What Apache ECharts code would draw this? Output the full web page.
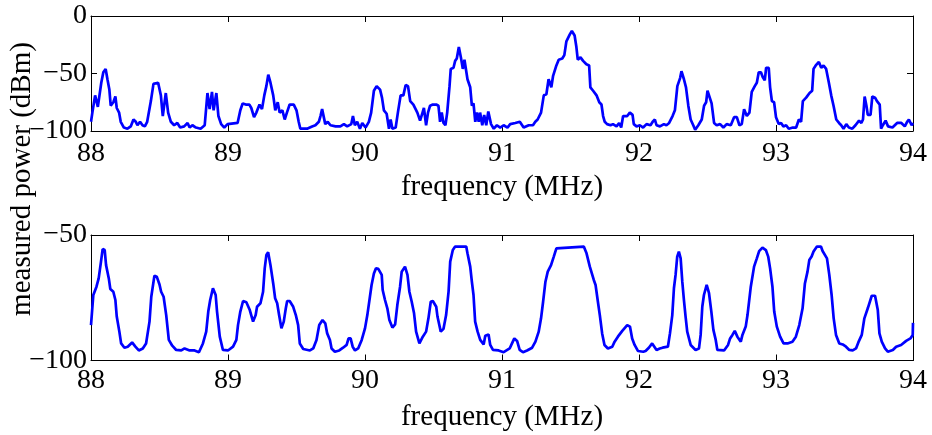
<!DOCTYPE html>
<html>
<head>
<meta charset="utf-8">
<script src="https://cdn.jsdelivr.net/npm/echarts@6/dist/echarts.min.js"></script>
<style>html,body{margin:0;padding:0;background:#fff}#c{width:932px;height:435px}</style>
</head>
<body>
<div id="c"></div>
<script>
// Top panel: measured power (dBm) vs frequency (MHz)
var topFreq = [88.0,88.01,88.03,88.04,88.05,88.06,88.075,88.09,88.107,88.12,88.134,88.144,88.163,88.178,88.188,88.205,88.217,88.24,88.266,88.29,88.31,88.327,88.339,88.358,88.376,88.393,88.41,88.437,88.456,88.49,88.51,88.524,88.546,88.563,88.583,88.607,88.63,88.651,88.68,88.705,88.72,88.74,88.766,88.8,88.83,88.85,88.866,88.883,88.895,88.915,88.93,88.95,88.973,88.997,89.07,89.09,89.107,89.13,89.156,89.17,89.19,
89.207,89.23,89.248,89.265,89.28,89.294,89.31,89.33,89.345,89.363,89.377,89.397,89.414,89.43,89.45,89.48,89.5,89.516,89.528,89.577,89.614,89.638,89.663,89.675,89.687,89.7,89.71,89.728,89.748,89.785,89.82,89.846,89.87,89.9,89.912,89.926,89.943,89.963,89.98,90.004,90.028,90.045,90.065,90.085,90.11,90.124,90.138,90.158,90.175,90.187,90.2,90.224,90.24,90.26,90.28,90.297,90.314,90.33,90.353,90.382,
90.402,90.42,90.43,90.446,90.46,90.475,90.495,90.52,90.536,90.548,90.56,90.573,90.587,90.6,90.617,90.626,90.646,90.658,90.67,90.685,90.7,90.714,90.726,90.738,90.748,90.768,90.78,90.792,90.805,90.817,90.83,90.84,90.856,90.87,90.885,90.9,90.92,90.94,90.963,90.987,91.012,91.04,91.06,91.097,91.13,91.158,91.195,91.226,91.243,91.26,91.285,91.305,91.324,91.34,91.36,91.373,91.397,91.414,91.44,91.455,91.47,91.495,91.51,91.53,91.543,91.553,91.573,91.592,
91.616,91.636,91.645,91.665,91.69,91.71,91.726,91.738,91.75,91.767,91.792,91.81,91.836,91.855,91.87,91.884,91.914,91.933,91.953,91.962,91.982,92.006,92.03,92.055,92.084,92.1,92.116,92.128,92.153,92.182,92.2,92.22,92.245,92.262,92.28,92.3,92.31,92.328,92.343,92.36,92.377,92.396,92.41,92.433,92.458,92.475,92.49,92.5,92.513,92.53,92.548,92.567,92.592,92.616,92.64,92.67,92.694,92.714,92.733,92.75,92.767,92.787,92.806,92.823,
92.845,92.86,92.874,92.89,92.903,92.918,92.928,92.947,92.957,92.97,92.986,93.0,93.02,93.037,93.054,93.074,93.093,93.123,93.147,93.167,93.183,93.196,93.22,93.245,93.264,93.274,93.29,93.313,93.33,93.347,93.366,93.386,93.403,93.42,93.44,93.46,93.476,93.493,93.513,93.532,93.557,93.58,93.606,93.623,93.635,93.647,93.66,93.67,93.69,93.703,93.723,93.737,93.757,93.767,93.78,93.8,93.818,93.85,93.884,93.915,93.94,93.957,93.97,93.99,94.0];
var topPower = [-92,-84,-69,-69,-79,-80,-58,-49,-46,-55,-64,-78,-75,-70,-80,-84,-92,-97,-98,-96,-90,-92,-95,-92,-95,-96,-92,-74,-59,-58,-69,-87,-67,-84,-92,-95,-93,-97,-96,-93,-97,-95,-97,-98,-95,-67,-81,-66,-82,-67,-87,-94,-97,-94,-93,-82,-76,-77,-77,-80,-88,
-84,-77,-81,-69,-61,-51,-58,-69,-82,-75,-84,-82,-90,-84,-77,-77,-82,-92,-98,-98,-96,-95,-92,-87,-81,-81,-94,-92,-95,-96,-96,-94,-96,-94,-87,-95,-92,-98,-93,-97,-92,-84,-65,-61,-64,-71,-82,-85,-98,-90,-98,-97,-84,-69,-69,-60,-61,-74,-77,-84,
-91,-84,-80,-95,-84,-78,-77,-77,-78,-92,-84,-93,-95,-84,-61,-46,-45,-39,-37,-27,-36,-46,-38,-38,-55,-62,-78,-76,-92,-84,-92,-84,-95,-86,-95,-83,-94,-98,-95,-97,-95,-97,-94,-93,-92,-97,-95,-95,-92,-90,-84,-69,-68,-55,-62,-52,-43,-38,-37,-34,-22,-16,-13,-17,-27,-38,-36,-39,
-42,-43,-62,-65,-69,-75,-77,-87,-92,-94,-95,-94,-96,-93,-97,-87,-87,-84,-86,-94,-96,-95,-97,-94,-95,-92,-90,-95,-96,-94,-95,-93,-87,-82,-61,-54,-48,-55,-62,-78,-90,-95,-99,-95,-90,-78,-75,-65,-66,-76,-93,-95,-94,-97,-94,-95,-88,-88,-95,-94,-81,-87,-84,-66,
-61,-58,-49,-49,-53,-56,-45,-45,-62,-74,-75,-88,-94,-93,-96,-95,-98,-97,-97,-90,-92,-74,-71,-67,-65,-46,-43,-40,-45,-43,-46,-58,-69,-78,-90,-93,-95,-98,-94,-97,-98,-95,-91,-93,-90,-70,-78,-86,-86,-70,-71,-74,-77,-98,-95,-91,-96,-97,-93,-93,-96,-92,-90,-95,-93];

// Bottom panel (clipped at -55 dBm)
var botFreq = [88.0,88.017,88.04,88.056,88.073,88.085,88.1,88.11,88.13,88.141,88.163,88.178,88.188,88.207,88.22,88.244,88.268,88.3,88.324,88.349,88.378,88.402,88.427,88.44,88.463,88.48,88.5,88.512,88.53,88.549,88.568,88.593,88.622,88.659,88.683,88.72,88.756,88.788,88.817,88.841,88.856,88.87,88.89,88.91,88.92,88.94,88.963,89.0,89.037,89.061,89.073,89.09,89.11,89.134,89.159,89.183,89.202,89.212,89.237,89.256,89.268,89.28,89.293,89.31,89.33,89.344,89.359,89.373,89.39,89.407,89.422,89.432,89.45,89.476,89.495,89.512,89.524,89.549,89.598,89.622,89.646,89.666,89.69,89.71,89.724,89.744,89.756,89.78,89.812,89.84,89.866,89.88,89.895,89.91,89.927,89.95,89.976,90.0,
90.017,90.036,90.048,90.065,90.08,90.097,90.122,90.129,90.146,90.163,90.178,90.2,90.22,90.236,90.256,90.268,90.292,90.31,90.324,90.341,90.358,90.373,90.397,90.422,90.446,90.463,90.48,90.495,90.52,90.529,90.553,90.573,90.592,90.61,90.622,90.641,90.658,90.739,90.748,90.768,90.78,90.792,90.804,90.822,90.841,90.866,90.878,90.902,90.914,90.934,90.975,91.012,91.056,91.073,91.09,91.11,91.129,91.153,91.183,91.22,91.244,91.268,91.285,91.3,91.317,91.334,91.358,91.378,91.397,91.407,91.597,91.617,91.641,91.67,91.683,91.7,91.714,91.731,91.748,91.773,91.805,91.822,91.846,91.878,91.914,91.934,91.95,91.968,91.992,92.031,
92.048,92.072,92.096,92.108,92.128,92.152,92.172,92.211,92.226,92.243,92.255,92.267,92.279,92.291,92.304,92.316,92.328,92.34,92.352,92.377,92.413,92.438,92.45,92.462,92.474,92.494,92.511,92.528,92.543,92.56,92.572,92.621,92.65,92.665,92.682,92.699,92.718,92.743,92.755,92.779,92.792,92.816,92.84,92.86,92.877,92.901,92.926,92.943,92.957,92.974,92.987,93.006,93.03,93.055,93.084,93.12,93.145,93.17,93.194,93.211,93.23,93.243,93.26,93.274,93.299,93.328,93.34,93.372,93.389,93.406,93.421,93.438,93.462,93.487,93.511,93.535,93.56,93.584,93.601,93.626,93.645,93.67,93.699,93.723,93.743,93.755,93.772,93.796,93.816,93.853,93.877,93.913,93.95,93.981,93.998,94.0];
var botPower = [-85.9,-73.9,-70.6,-67.3,-60.6,-55.6,-56,-62,-67.3,-71.5,-72.6,-75.9,-82.5,-88.5,-93.2,-94.9,-94.5,-92.8,-94.5,-96,-95.2,-93.2,-84.5,-74.6,-66.2,-66.6,-69.7,-72.6,-74.6,-81.9,-91.8,-94.1,-95.8,-96,-95.2,-96,-96,-96.7,-93.2,-88.5,-80.5,-75.9,-71.2,-73.9,-80.5,-90.5,-95.8,-96,-94.5,-91.8,-85.9,-80.5,-76.3,-76.8,-79.9,-84.5,-81.9,-78.6,-77.2,-72.6,-63.3,-58,-56.9,-62,-69.3,-75.2,-77.2,-81.9,-87.2,-84.5,-79.2,-76.3,-76.3,-78.6,-81.9,-85.9,-93.2,-95.4,-96,-95.2,-91.8,-85.9,-83.9,-85.2,-89.2,-91.8,-95.2,-96.5,-96,-94.9,-93.8,-91.2,-91.2,-94.5,-96,-95.2,-91.8,-87.2,
-81.9,-74.6,-69.9,-65.3,-63.3,-63.5,-65.9,-71.9,-75.9,-79.2,-83.9,-86.9,-85.6,-77.9,-70.6,-64.6,-62.6,-65.9,-72.6,-76.6,-81.2,-88.5,-93.2,-90.5,-88.5,-83.2,-76.6,-76.3,-78.6,-82.5,-88.5,-87.4,-81.9,-72.6,-60.6,-56,-54.6,-54.6,-57.3,-62.6,-68.6,-73.9,-84.5,-88.5,-91.8,-93.6,-90.1,-89.6,-93.8,-95.8,-96,-96.7,-95.2,-93.2,-91.2,-92.2,-95.8,-96.7,-96,-94.9,-92.5,-88.5,-83.2,-76.6,-68.6,-64.6,-62,-58.6,-55.3,-54.6,-54.6,-57.3,-62.6,-67.9,-69.9,-76.6,-81.9,-89.2,-93.8,-95.2,-94.5,-92.5,-90.5,-88.2,-85.9,-86.5,-91.2,-93.8,-96.2,-96.5,
-96.2,-94.9,-93.2,-93.8,-95.8,-95.2,-94.9,-94.5,-89.2,-81.9,-71.2,-65.9,-58.6,-56.6,-59.3,-68.6,-75.9,-82.5,-88.5,-93.8,-95.8,-95.2,-89.8,-78.6,-73.9,-69.9,-73.2,-80.5,-87.8,-91.8,-95.8,-96,-93.8,-91.2,-89.8,-88.2,-90.5,-92.5,-89.8,-86.5,-81.9,-70.6,-62.6,-59.3,-56.4,-55,-56,-58.6,-63.3,-70.6,-80.5,-86.5,-90.5,-93.2,-93.2,-92.5,-90.5,-85.9,-79.2,-69.3,-64.6,-60,-58.6,-56.6,-54.6,-54.6,-56.4,-59.3,-65.9,-73.9,-83.2,-89.8,-93.2,-93.6,-94.5,-95.8,-96,-95.2,-92.8,-89.8,-83.2,-79.2,-74.2,-74.2,-79.9,-89.2,-92.5,-95.2,-96.5,-95.8,-94.5,-93.8,-92.2,-91.2,-89.8,-85];

var xTicks = [88, 89, 90, 91, 92, 93, 94];
var topYTicks = [-100, -50, 0];
var botYTicks = [-100, -50];

function pairs(xs, ys) { return xs.map(function (x, i) { return [x, ys[i]]; }); }

var FONT = 'Liberation Serif';
var FS = 28;
var TFS = 29;
function fmt(v) { return String(v).replace('-', '\u2212'); }

function xAx(gi, pos, showLabels, margin) {
  return {
    type: 'value', gridIndex: gi, position: pos, min: xTicks[0], max: xTicks[xTicks.length - 1], interval: 1,
    splitLine: { show: false },
    axisLine: { show: true, onZero: false, lineStyle: { color: '#000', width: 1 } },
    axisTick: { show: true, inside: true, length: 6, lineStyle: { color: '#000' } },
    axisLabel: { show: showLabels, color: '#000', fontFamily: FONT, fontSize: FS, margin: margin, formatter: fmt },
    name: showLabels ? 'frequency (MHz)' : '', nameLocation: 'middle', nameGap: 42,
    nameTextStyle: { color: '#000', fontFamily: FONT, fontSize: TFS }
  };
}
function yAx(gi, pos, ticks, showLabels) {
  return {
    type: 'value', gridIndex: gi, position: pos, min: ticks[0], max: ticks[ticks.length - 1], interval: 50,
    splitLine: { show: false },
    axisLine: { show: true, onZero: false, lineStyle: { color: '#000', width: 1 } },
    axisTick: { show: true, inside: true, length: 6, lineStyle: { color: '#000' } },
    axisLabel: { show: showLabels, color: '#000', fontFamily: FONT, fontSize: FS, margin: 4, formatter: fmt }
  };
}

var chart = echarts.init(document.getElementById('c'), null, { renderer: 'canvas' });
chart.setOption({
  animation: false,
  backgroundColor: '#fff',
  grid: [
    { left: 91, right: 19, top: 16, height: 115, containLabel: false },
    { left: 91, right: 19, top: 235, height: 125.5, containLabel: false }
  ],
  xAxis: [xAx(0, 'bottom', true, 9), xAx(0, 'top', false, 6), xAx(1, 'bottom', true, 6), xAx(1, 'top', false, 6)],
  yAxis: [yAx(0, 'left', topYTicks, true), yAx(0, 'right', topYTicks, false), yAx(1, 'left', botYTicks, true), yAx(1, 'right', botYTicks, false)],
  graphic: [{
    type: 'text', x: 22, y: 179, rotation: Math.PI / 2,
    style: { text: 'measured power (dBm)', fontFamily: FONT, fontSize: TFS, fill: '#000', align: 'center', verticalAlign: 'middle' }
  }],
  series: [
    { type: 'line', xAxisIndex: 0, yAxisIndex: 0, data: pairs(topFreq, topPower), showSymbol: false, lineStyle: { color: '#0000ff', width: 2.7 }, clip: true },
    { type: 'line', xAxisIndex: 2, yAxisIndex: 2, data: pairs(botFreq, botPower), showSymbol: false, lineStyle: { color: '#0000ff', width: 2.7 }, clip: true }
  ]
});
</script>
</body>
</html>
